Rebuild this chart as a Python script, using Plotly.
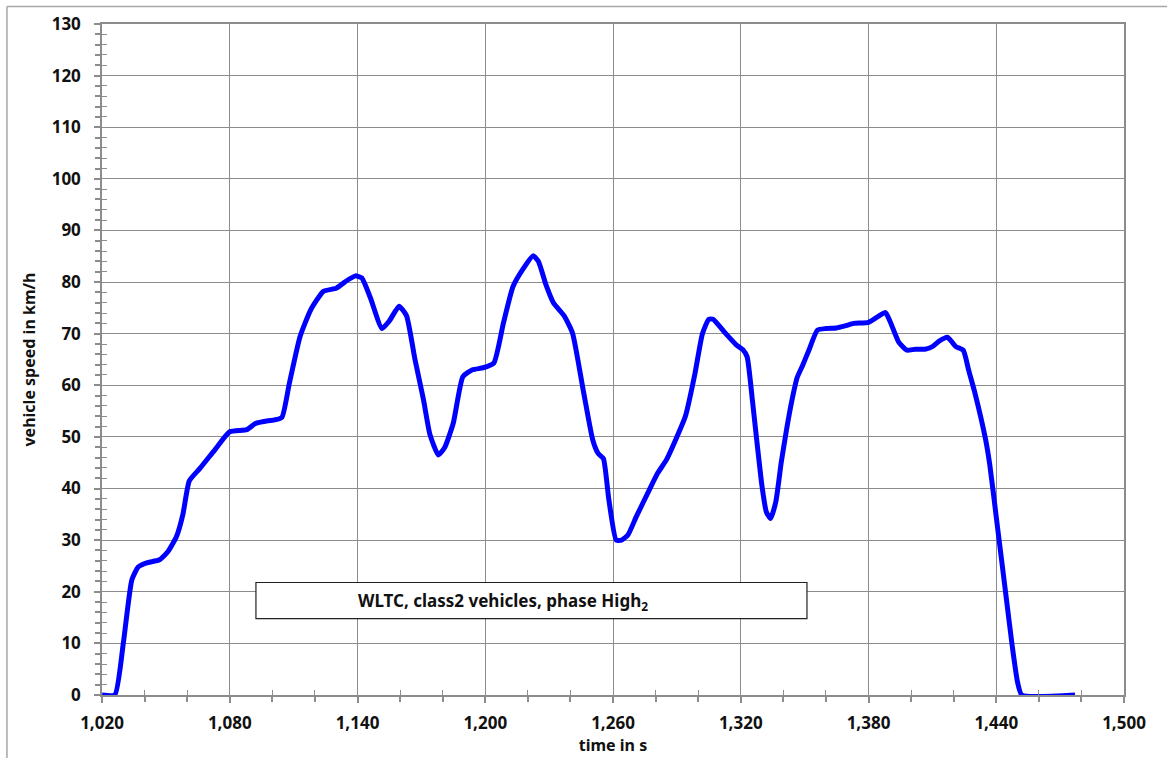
import plotly.graph_objects as go

# WLTC class 2, phase High2
time_s = [1020, 1026, 1030, 1034, 1037, 1041, 1047, 1051, 1055, 1058, 1061, 1066, 1073, 1080,
          1088, 1092, 1096, 1101, 1104.5, 1108, 1113, 1118, 1124, 1130, 1134, 1139, 1142, 1146,
          1151.5, 1155, 1159.5, 1163, 1167, 1171, 1174, 1178, 1181, 1185, 1189.5, 1194, 1199,
          1204, 1208.5, 1213, 1218, 1222.5, 1225, 1228.5, 1232, 1237, 1241, 1246, 1250.5, 1253,
          1255.5, 1258, 1261.5, 1264, 1267, 1271, 1277, 1281, 1285, 1290, 1294, 1298.5, 1302,
          1305, 1307, 1313, 1318, 1321, 1323, 1325.5, 1327.5, 1330, 1332, 1334, 1336.5, 1339,
          1341.5, 1344, 1346.5, 1349, 1352, 1356, 1360, 1365, 1369, 1373, 1380, 1384, 1388,
          1390, 1394, 1396, 1398, 1402, 1406.5, 1410, 1413, 1417, 1419, 1421, 1424.5, 1427,
          1430, 1435, 1437, 1440, 1443, 1445, 1447.5, 1450, 1452, 1477]
speed_kmh = [0, 0, 10, 22.3, 24.8, 25.6, 26.2, 27.8, 30.7, 35, 41.5, 43.9, 47.5, 51.0,
             51.4, 52.6, 53.0, 53.3, 53.8, 60.4, 69.4, 74.6, 78.2, 78.8, 80, 81.2, 80.8, 77,
             71, 72.5, 75.3, 73.5, 65, 57.2, 50.5, 46.5, 48, 52.7, 61.7, 63, 63.4,
             64.3, 72, 79.1, 82.7, 85.1, 84, 79.5, 76, 73.5, 70.1, 59.1, 49.4, 46.8,
             45.8, 38, 30, 30, 31, 34.6, 39.7, 43, 45.5, 50, 54, 62.3, 70,
             72.8, 72.8, 70, 67.8, 66.9, 65.5, 57, 49.4, 40.4, 35.5, 34.2, 37.5, 45,
             51.4, 57, 61.5, 63.8, 66.8, 70.7, 71, 71.1, 71.5, 72, 72.2, 73.2, 74.1,
             72.5, 68.5, 67.5, 66.8, 67, 67, 67.5, 68.5, 69.3, 68.5, 67.5, 66.8, 63,
             58.5, 49.5, 44.5, 34.5, 24.5, 17.8, 9.5, 2.5, 0, 0]

x_range = [1020, 1500]
y_range = [0, 130]
label_text = "WLTC, class2 vehicles, phase High<sub>2</sub>"
x_title = "time in s"
y_title = "vehicle speed in km/h"

FONT = "Noto Sans"
GRID = "#8c8c8c"
TXT = "#111111"

fig = go.Figure()
fig.add_trace(go.Scatter(x=time_s, y=speed_kmh, mode="lines",
                         line=dict(color="#0000ff", width=5, shape="spline", smoothing=0.5),
                         showlegend=False, hoverinfo="skip"))
# invisible trace for overlay axes (cross ticks)
fig.add_trace(go.Scatter(x=[x_range[0]], y=[y_range[0]], xaxis="x2", yaxis="y2",
                         mode="markers", marker=dict(opacity=0), showlegend=False,
                         hoverinfo="skip"))

fig.update_layout(
    width=1167, height=758,
    margin=dict(l=102, r=43, t=24, b=63),
    paper_bgcolor="white", plot_bgcolor="white",
    font=dict(family=FONT, color=TXT),
    xaxis=dict(range=x_range, dtick=60, tick0=1020, tickformat=",d",
               showgrid=True, gridcolor=GRID, gridwidth=1.3,
               showline=True, linecolor=GRID, linewidth=1.5, mirror=True,
               ticks="outside", ticklen=6, tickcolor=GRID, tickwidth=1.5,
               ticklabelstandoff=6,
               minor=dict(dtick=20, ticks="outside", ticklen=5, tickcolor=GRID, showgrid=False),
               tickfont=dict(family=FONT, size=17, color=TXT, weight="bold"),
               title=dict(text=x_title, standoff=0,
                          font=dict(family=FONT, size=16, color=TXT, weight="bold")),
               zeroline=False, fixedrange=True),
    yaxis=dict(range=y_range, dtick=10,
               showgrid=True, gridcolor=GRID, gridwidth=1.3,
               showline=True, linecolor=GRID, linewidth=1.5, mirror=True,
               ticks="outside", ticklen=6, tickcolor=GRID, tickwidth=1.5,
               ticklabelstandoff=10,
               minor=dict(dtick=2, ticks="outside", ticklen=5, tickcolor=GRID, showgrid=False),
               tickfont=dict(family=FONT, size=17, color=TXT, weight="bold"),
               title=dict(text=y_title, standoff=12,
                          font=dict(family=FONT, size=16, color=TXT, weight="bold")),
               zeroline=False, fixedrange=True),
    xaxis2=dict(overlaying="x", range=x_range, showticklabels=False, showgrid=False,
                showline=False, zeroline=False, side="bottom", anchor="y",
                dtick=60, tick0=1020, ticks="inside", ticklen=5, tickcolor=GRID,
                minor=dict(dtick=20, ticks="inside", ticklen=5, tickcolor=GRID, showgrid=False)),
    yaxis2=dict(overlaying="y", range=y_range, showticklabels=False, showgrid=False,
                showline=False, zeroline=False, side="left", anchor="x",
                dtick=10, ticks="inside", ticklen=5, tickcolor=GRID,
                minor=dict(dtick=2, ticks="inside", ticklen=5, tickcolor=GRID, showgrid=False)),
    shapes=[
        dict(type="rect", xref="x", yref="y", x0=1092.3, x1=1351.1, y0=14.8, y1=21.8,
             fillcolor="white", line=dict(color="#222222", width=1.2), layer="above"),
        dict(type="line", xref="paper", yref="paper", x0=-0.093, x1=1.1, y0=1.026, y1=1.026,
             line=dict(color="#a6a6a6", width=1.5)),
        dict(type="line", xref="paper", yref="paper", x0=-0.093, x1=-0.093, y0=-0.2, y1=1.026,
             line=dict(color="#a6a6a6", width=1.5)),
    ],
    annotations=[
        dict(xref="x", yref="y", x=1208.4, y=18.1, text=label_text,
             showarrow=False, font=dict(family=FONT, size=17, color=TXT, weight="bold"),
             xanchor="center", yanchor="middle"),
    ],
)

fig.write_html("out.html", config={"displayModeBar": False},
               post_script="document.body.style.margin='0';document.body.style.overflow='hidden';")
